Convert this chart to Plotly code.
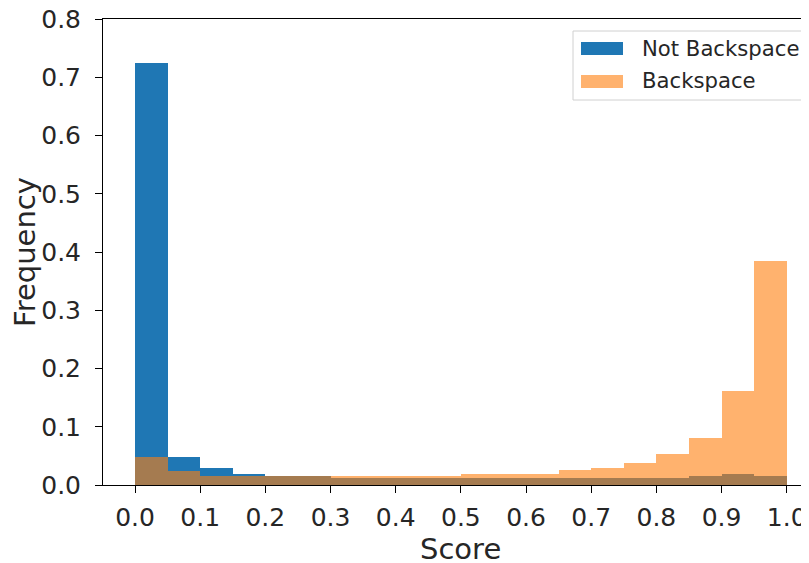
import plotly.graph_objects as go

bin_left = [round(i * 0.05, 2) for i in range(20)]
not_backspace = [0.725, 0.048, 0.030, 0.019, 0.015, 0.015, 0.012, 0.012, 0.012, 0.012,
                 0.012, 0.012, 0.012, 0.012, 0.012, 0.012, 0.012, 0.0155, 0.0195, 0.015]
backspace = [0.0475, 0.0235, 0.0155, 0.015, 0.015, 0.015, 0.0155, 0.0155, 0.0155, 0.0155,
             0.019, 0.019, 0.019, 0.026, 0.030, 0.038, 0.053, 0.081, 0.161, 0.385]
x_ticks = [round(i * 0.1, 1) for i in range(11)]
y_ticks = [round(i * 0.1, 1) for i in range(9)]
series_names = ["Not Backspace", "Backspace"]
x_title = "Score"
y_title = "Frequency"

BLUE = "#1f77b4"
ORANGE = "#ff7f0e"
FONT = "DejaVu Sans"
TXT = "#262626"

# the page body has an 8px default margin, so the figure is drawn 8px in from the corner
OFF = 8
FW, FH = 809 - OFF, 563 - OFF
L, T, W, H = 103 - OFF, 19 - OFF, 706, 466


def px(xs):  # screen x -> paper x
    return (xs - OFF - L) / W


def py(ys):  # screen y -> paper y
    return (T + H - (ys - OFF)) / H


fig = go.Figure()
fig.add_trace(go.Bar(x=bin_left, y=not_backspace, width=0.05, offset=0,
                     marker=dict(color=BLUE, line=dict(width=0)), name=series_names[0],
                     showlegend=False))
fig.add_trace(go.Bar(x=bin_left, y=backspace, width=0.05, offset=0,
                     marker=dict(color=ORANGE, line=dict(width=0)), opacity=0.6,
                     name=series_names[1], showlegend=False))

# custom legend (matplotlib style)
shapes = [
    dict(type="rect", xref="paper", yref="paper", x0=px(573), x1=px(806.5),
         y0=py(100), y1=py(31), line=dict(color="#d0d0d0", width=1),
         fillcolor="rgba(255,255,255,0.8)", layer="above"),
    dict(type="rect", xref="paper", yref="paper", x0=px(581), x1=px(623),
         y0=py(55), y1=py(42), line=dict(width=0), fillcolor=BLUE, layer="above"),
    dict(type="rect", xref="paper", yref="paper", x0=px(581), x1=px(623),
         y0=py(88), y1=py(75), line=dict(width=0),
         fillcolor="rgba(255,127,14,0.6)", layer="above"),
]
annotations = [
    dict(text=series_names[0], xref="paper", yref="paper", x=px(640), y=py(48),
         xanchor="left", yanchor="middle", showarrow=False, font=dict(family=FONT, size=21.2, color=TXT)),
    dict(text=series_names[1], xref="paper", yref="paper", x=px(640), y=py(80),
         xanchor="left", yanchor="middle", showarrow=False, font=dict(family=FONT, size=21.2, color=TXT)),
    # x axis title
    dict(text=x_title, xref="paper", yref="paper", x=px(461), y=py(549),
         xanchor="center", yanchor="middle", showarrow=False, font=dict(family=FONT, size=29, color=TXT)),
]

fig.update_layout(
    width=FW, height=FH,
    margin=dict(l=L, r=FW - L - W, t=T, b=FH - T - H, autoexpand=False),
    barmode="overlay",
    bargap=0,
    plot_bgcolor="white", paper_bgcolor="white",
    font=dict(family=FONT, color=TXT),
    shapes=shapes, annotations=annotations,
    xaxis=dict(range=[-0.0491, 1.0342], tickvals=x_ticks, ticktext=[f"{v:.1f}" for v in x_ticks],
               automargin=False, ticklabeloverflow="allow",
               showgrid=False, zeroline=False, showline=True, linecolor="black", linewidth=1,
               mirror=True, ticks="outside", ticklen=7, tickcolor="black", ticklabelstandoff=3,
               tickfont=dict(size=25, family=FONT, color=TXT)),
    yaxis=dict(range=[0, 0.8], tickvals=y_ticks, ticktext=[f"{v:.1f}" for v in y_ticks],
               automargin=False, ticklabeloverflow="allow",
               showgrid=False, zeroline=False, showline=True, linecolor="black", linewidth=1,
               ticks="outside", ticklen=7, tickcolor="black", ticklabelstandoff=9,
               tickfont=dict(size=25, family=FONT, color=TXT),
               title=dict(text=y_title, font=dict(size=29, family=FONT, color=TXT), standoff=1)),
)

fig.write_html("out.html")
